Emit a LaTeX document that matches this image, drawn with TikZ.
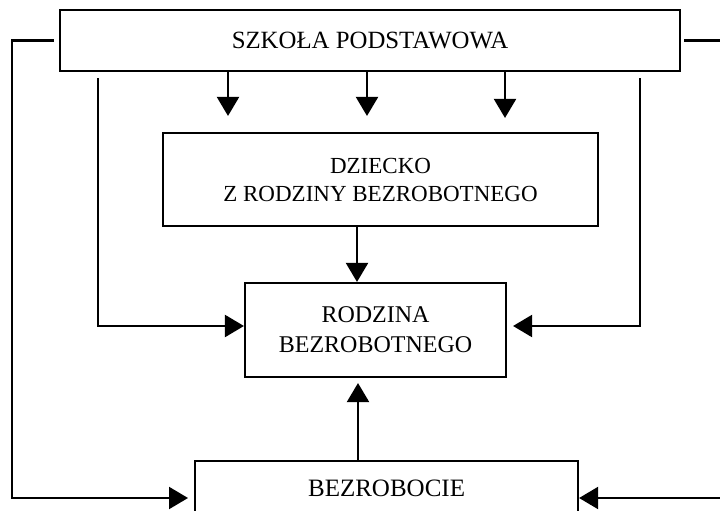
\documentclass[tikz,border=0pt]{standalone}
\usepackage{fontspec}
\setmainfont{Liberation Serif}
\usetikzlibrary{arrows.meta}
\begin{document}
\begin{tikzpicture}[x=1pt,y=-1pt,
  box/.style={draw,line width=2.1pt,rectangle,inner sep=0pt,align=center,
    font=\fontsize{24}{29}\selectfont},
  arr/.style={line width=2.1pt,-{Triangle[width=22pt,length=19pt]}}]
\useasboundingbox (0,0) rectangle (720,511);
\node[box,minimum width=620pt,minimum height=61pt,font=\fontsize{24.8}{29}\selectfont] (top) at (370,40.5) {SZKOŁA PODSTAWOWA};
\node[box,minimum width=435pt,minimum height=93pt,font=\fontsize{23}{28}\selectfont] (dz) at (380.5,179.5) {DZIECKO\\Z RODZINY BEZROBOTNEGO};
\node[box,minimum width=261pt,minimum height=94pt,font=\fontsize{24}{30}\selectfont] (rod) at (375.5,330) {RODZINA\\BEZROBOTNEGO};
\node[box,minimum width=383pt,minimum height=54pt,anchor=north west,font=\fontsize{25}{30}\selectfont] (bez) at (194,460) {BEZROBOCIE};
% coordinates
\coordinate (a1) at (228,0);
\coordinate (a2) at (367,0);
\coordinate (a3) at (505,0);
\coordinate (il) at (98,326);
\coordinate (ir) at (640,326);
\coordinate (ol) at (12,498);
\coordinate (or) at (722,498);
% down arrows from school to child
\draw[arr,shorten >=16pt] (top.south -| a1) -- (dz.north -| a1);
\draw[arr,shorten >=16pt] (top.south -| a2) -- (dz.north -| a2);
\draw[arr,shorten >=14pt] (top.south -| a3) -- (dz.north -| a3);
% child to family
\draw[arr] (dz.south -| 357,0) -- (rod.north -| 357,0);
% unemployment to family
\draw[arr,shorten >=5pt] (bez.north -| 358,0) -- (rod.south -| 358,0);
% inner side lines
\draw[arr,shorten <=6pt] (top.south -| il) -- (il) -- (rod.west |- il);
\draw[arr,shorten <=6pt,shorten >=6pt] (top.south -| ir) -- (ir) -- (rod.east |- ir);
% outer lines
\draw[arr,shorten <=5pt,shorten >=6pt] (top.west) -- (top.west -| ol) -- (ol) -- (ol -| bez.west);
\draw[arr,shorten <=3pt] (top.east) -- (top.east -| or) -- (or) -- (or -| bez.east);
\end{tikzpicture}
\end{document}
